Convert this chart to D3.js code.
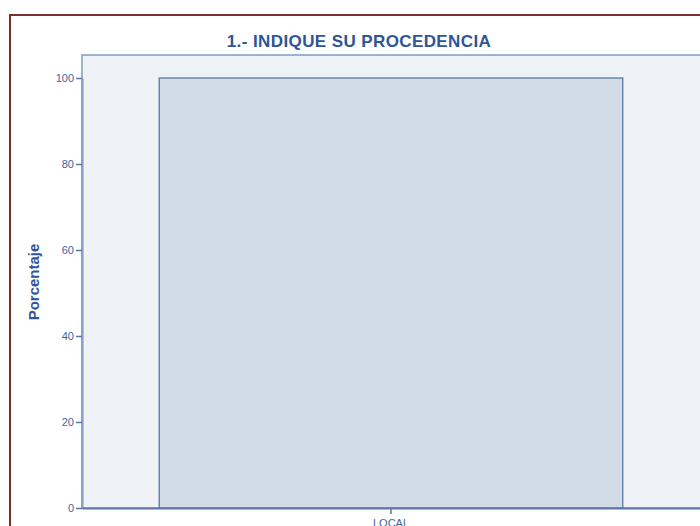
<!DOCTYPE html>
<html>
<head>
<meta charset="utf-8">
<script src="https://cdn.jsdelivr.net/npm/d3@7"></script>
<style>
  html, body { margin: 0; padding: 0; background: #ffffff; overflow: hidden; }
</style>
</head>
<body>
<script>
// Data
const categories = ["LOCAL"];
const percentages = [100];
const yTicks = [0, 20, 40, 60, 80, 100];

const width = 700, height = 526;
const plot = { left: 82, right: 700, top: 55, bottom: 508 };

const svg = d3.select("body").append("svg")
  .attr("width", width)
  .attr("height", height)
  .style("font-family", '"Liberation Sans", Arial, sans-serif');

// Outer frame
svg.append("rect")
  .attr("x", 10).attr("y", 15)
  .attr("width", 760).attr("height", 600)
  .attr("fill", "#ffffff")
  .attr("stroke", "#7a2e2e")
  .attr("stroke-width", 2);

// Plot background
svg.append("rect")
  .attr("x", plot.left).attr("y", plot.top)
  .attr("width", plot.right - plot.left + 20)
  .attr("height", plot.bottom - plot.top)
  .attr("fill", "#eff3f7")
  .attr("stroke", "#7f9cc4")
  .attr("stroke-width", 1.5);

const x = d3.scaleBand()
  .domain(categories)
  .range([plot.left, plot.right])
  .paddingInner(0.25)
  .paddingOuter(0.125);

const y = d3.scaleLinear()
  .domain([0, 100])
  .range([plot.bottom, 78]);

// Bars
svg.append("g")
  .selectAll("rect.bar")
  .data(categories)
  .join("rect")
  .attr("class", "bar")
  .attr("x", (d) => x(d))
  .attr("y", (d, i) => y(percentages[i]))
  .attr("width", x.bandwidth())
  .attr("height", (d, i) => y(0) - y(percentages[i]))
  .attr("fill", "#d2dce8")
  .attr("stroke", "#5a78a3")
  .attr("stroke-width", 1.3);

// Y axis
const yAxis = svg.append("g")
  .attr("transform", `translate(${plot.left},0)`)
  .call(d3.axisLeft(y).tickValues(yTicks).tickSize(6).tickSizeOuter(0));
yAxis.select(".domain").attr("stroke", "#7f9cc4").attr("stroke-width", 2);
yAxis.selectAll(".tick line").attr("stroke", "#5a78a3").attr("stroke-width", 1.5);
yAxis.selectAll(".tick text")
  .attr("fill", "#3f64a0")
  .attr("font-size", 11)
  .attr("x", -8);

// X axis
const xAxis = svg.append("g")
  .attr("transform", `translate(0,${plot.bottom})`)
  .call(d3.axisBottom(x).tickSize(6).tickSizeOuter(0));
xAxis.select(".domain").attr("stroke", "#5a78a3").attr("stroke-width", 2);
xAxis.selectAll(".tick line").attr("stroke", "#5a78a3").attr("stroke-width", 1.5);
xAxis.selectAll(".tick text")
  .attr("fill", "#3f64a0")
  .attr("font-size", 11)
  .attr("y", 11);

// Title
svg.append("text")
  .attr("x", 359)
  .attr("y", 46.5)
  .attr("text-anchor", "middle")
  .attr("fill", "#2f5597")
  .attr("font-size", 17)
  .attr("font-weight", "bold")
  .attr("letter-spacing", 0.4)
  .text("1.- INDIQUE SU PROCEDENCIA");

// Y axis label
svg.append("text")
  .attr("transform", `translate(39,282) rotate(-90)`)
  .attr("text-anchor", "middle")
  .attr("fill", "#2f5597")
  .attr("font-size", 15)
  .attr("font-weight", "bold")
  .text("Porcentaje");
</script>
</body>
</html>
